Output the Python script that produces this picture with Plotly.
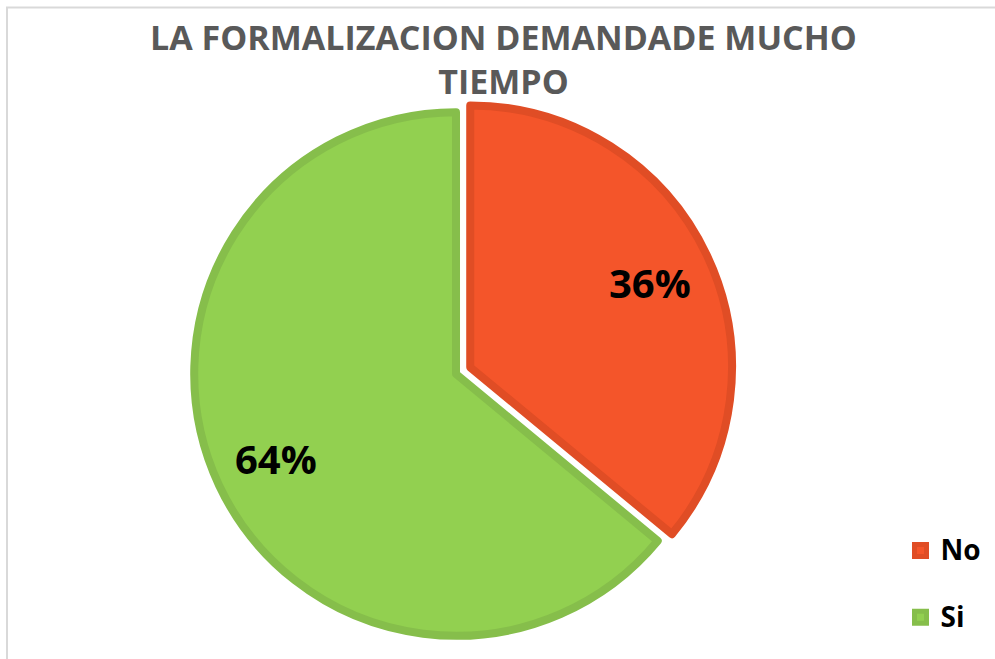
import math
import plotly.graph_objects as go

# slices, clockwise from 12 o'clock
labels = ["No", "Si"]
values = [36, 64]
pulls = [0.06, 0]

title_text = "LA FORMALIZACION DEMANDADE MUCHO<br>TIEMPO"

fill_colors = ["#F4552A", "#92D050"]
edge_colors = ["#E04D25", "#86BE4B"]

W, H = 995, 659
dom_x = [0.1794, 0.7372]
dom_y = [0.0114, 0.8536]

# legend text: bigger glyphs, plus an empty 2nd line to space the entries out
legend_labels = [f"<span style='font-size:28px'>{l}</span><br>&nbsp;" for l in labels]

fig = go.Figure()

fig.add_trace(go.Pie(
    labels=legend_labels,
    values=values,
    pull=pulls,
    sort=False,
    direction="clockwise",
    rotation=0,
    marker=dict(colors=fill_colors, line=dict(color=edge_colors, width=8)),
    textinfo="none",
    domain=dict(x=dom_x, y=dom_y),
    customdata=labels,
    hovertemplate="%{customdata}: %{percent:.0%}<extra></extra>",
))

# percentage labels, placed further out than plotly's inside text
# (same geometry plotly uses: r = box / (2 + 2 * maxPull))
box = min((dom_x[1] - dom_x[0]) * W, (dom_y[1] - dom_y[0]) * H)
r = box / (2 + 2 * max(pulls))
cx = (dom_x[0] + dom_x[1]) / 2 * W
cy = (dom_y[0] + dom_y[1]) / 2 * H
total = sum(values)
annotations = []
start = 0
for v, p in zip(values, pulls):
    mid = (start + v / 2) / total * 2 * math.pi
    start += v
    dist = (0.76 + p) * r
    annotations.append(dict(
        x=(cx + dist * math.sin(mid)) / W,
        y=(cy + dist * math.cos(mid)) / H,
        xref="paper", yref="paper",
        xanchor="center", yanchor="middle",
        text=f"{v / total:.0%}",
        showarrow=False,
        font=dict(family="Open Sans", size=40, color="black", weight="bold"),
    ))

fig.update_layout(
    width=W,
    height=H,
    margin=dict(l=0, r=0, t=0, b=0, autoexpand=False),
    paper_bgcolor="white",
    plot_bgcolor="white",
    title=dict(
        text=title_text,
        x=0.506,
        xanchor="center",
        y=1 - 50 / H,
        yanchor="top",
        yref="container",
        font=dict(family="Open Sans", size=34, color="#595959", weight="bold"),
    ),
    legend=dict(
        x=0.905,
        xanchor="left",
        y=1 - 528 / H,
        yanchor="top",
        valign="top",
        font=dict(family="Open Sans", size=24.5, color="black", weight="bold"),
        bgcolor="rgba(0,0,0,0)",
    ),
    annotations=annotations,
    # light frame of the chart area (only top and left edges show)
    shapes=[dict(
        type="rect", xref="paper", yref="paper",
        x0=7 / W, x1=1.05, y0=-0.05, y1=1 - 7.5 / H,
        line=dict(color="#D9D9D9", width=2),
    )],
)

# drop the page's default body margin so the figure sits at the top-left corner
fig.write_html(
    "out.html",
    config={"displayModeBar": False},
    post_script="document.body.style.margin = '0';",
)
